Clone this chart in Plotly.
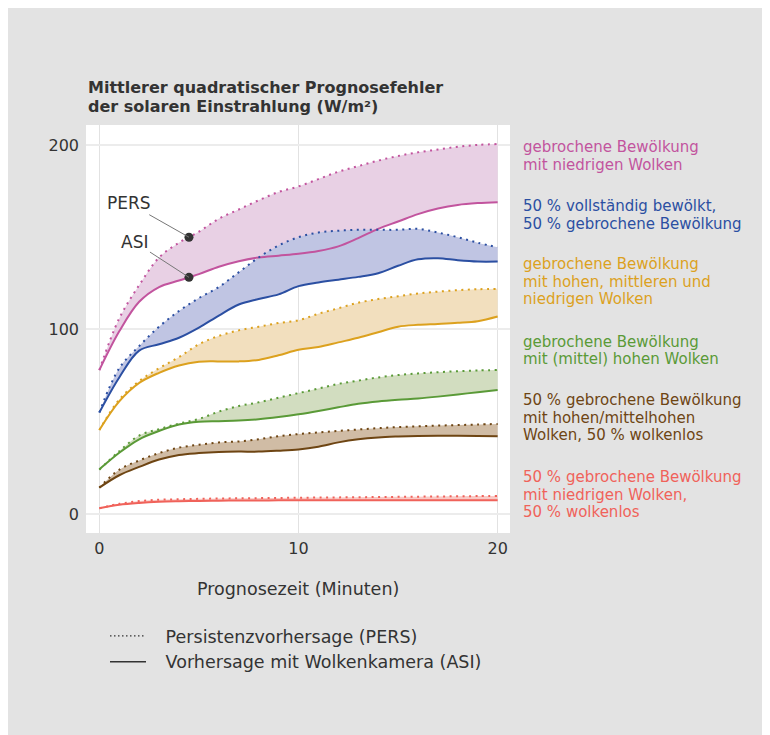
import plotly.graph_objects as go
import numpy as np

t = list(range(21))

pink_pers = [78, 106, 124, 139, 147, 153, 160, 165, 170, 174.5, 177.5, 181.5, 185.5, 188.5, 191.5, 194, 196, 197.5, 199, 200, 200.5]
pink_asi = [78, 99, 115, 123, 126.5, 130, 134, 137, 139, 140, 141, 142.5, 145, 149.5, 154.5, 158.5, 162.5, 165.5, 167.5, 168.5, 169]
blue_pers = [55, 79, 91, 101.5, 110, 117, 123, 131, 139, 145.5, 150, 152.5, 153.5, 154, 154, 154, 154.5, 152.5, 150, 147, 144.5]
blue_asi = [55, 74, 88.5, 92, 95.5, 101, 107.5, 113.5, 116.5, 119, 123.5, 125.5, 127, 128.5, 130.5, 134.5, 138, 138.6, 137.5, 136.8, 136.8]
gold_pers = [45.5, 62, 72, 79, 85, 92, 96.5, 99.5, 101.5, 103.5, 105, 108.5, 111.5, 114.5, 116.5, 118, 119.5, 120.5, 121.3, 121.8, 122]
gold_asi = [45.5, 61, 71, 76.5, 80.5, 82.5, 82.7, 82.7, 83.5, 86, 89, 90.5, 93, 95.5, 98.5, 101.5, 102.5, 103, 103.6, 104.5, 107]
green_pers = [24, 34, 42.5, 46, 49, 51.5, 55.5, 58.5, 60.5, 63, 65.5, 68, 70.5, 72.3, 74, 75.3, 76.2, 76.8, 77.4, 77.8, 78]
green_asi = [24.2, 33.2, 40.5, 45, 48.5, 50, 50.3, 50.6, 51.3, 52.5, 54, 55.8, 57.8, 59.7, 61, 61.9, 62.6, 63.6, 64.8, 66, 67.2]
brown_pers = [14.3, 24, 29, 33, 36, 37.5, 38.8, 39.3, 40.5, 42.2, 43.3, 44.2, 45, 45.8, 46.5, 47.1, 47.5, 47.9, 48.2, 48.5, 48.8]
brown_asi = [14.3, 21, 25.5, 29.5, 32, 33, 33.6, 33.8, 33.8, 34.3, 35, 36.5, 38.8, 40.5, 41.5, 42, 42.3, 42.4, 42.4, 42.3, 42.1]
red_pers = [3.1, 5.5, 7, 7.7, 8, 8.2, 8.4, 8.5, 8.6, 8.7, 8.8, 8.9, 9.0, 9.1, 9.2, 9.3, 9.4, 9.5, 9.6, 9.7, 9.8]
red_asi = [3.1, 5, 6, 6.6, 6.9, 7.1, 7.2, 7.3, 7.3, 7.4, 7.4, 7.4, 7.4, 7.4, 7.4, 7.4, 7.4, 7.4, 7.4, 7.4, 7.4]

label_lines = [
    ["gebrochene Bewölkung", "mit niedrigen Wolken"],
    ["50 % vollständig bewölkt,", "50 % gebrochene Bewölkung"],
    ["gebrochene Bewölkung", "mit hohen, mittleren und", "niedrigen Wolken"],
    ["gebrochene Bewölkung", "mit (mittel) hohen Wolken"],
    ["50 % gebrochene Bewölkung", "mit hohen/mittelhohen", "Wolken, 50 % wolkenlos"],
    ["50 % gebrochene Bewölkung", "mit niedrigen Wolken,", "50 % wolkenlos"],
]
title_lines = ["Mittlerer quadratischer Prognosefehler", "der solaren Einstrahlung (W/m²)"]
legend_names = ["Persistenzvorhersage (PERS)", "Vorhersage mit Wolkenkamera (ASI)"]
x_title = "Prognosezeit (Minuten)"

series = [
    (pink_asi, pink_pers, "#c2549e", "#e8d0e4"),
    (blue_asi, blue_pers, "#2b4fa2", "#c0c5e3"),
    (gold_asi, gold_pers, "#dca11e", "#f2dfbe"),
    (green_asi, green_pers, "#5a9a37", "#d2ddc0"),
    (brown_asi, brown_pers, "#6e4513", "#d0bca5"),
    (red_asi, red_pers, "#f0625a", "#f9c9c5"),
]

ANNOT_T = 4.5

# layout constants (pixels in the page)
W, H = 770, 735
OFF = 8
PL, PT, PR, PB = 86, 125, 510, 533
pw, ph = PR - PL, PB - PT
label_first_y = [147.3, 206, 264.3, 341.7, 400, 477]
LINE_STEP = 17.5

def ypap(ypx):
    return (PB - ypx) / ph

def xpap(xpx):
    return (xpx - PL) / pw

fig = go.Figure()

for asi, pers, lc, fc in series:
    fig.add_trace(go.Scatter(x=t, y=asi, mode="lines", line=dict(width=0, shape="spline", color=fc),
                             showlegend=False, hoverinfo="skip"))
    fig.add_trace(go.Scatter(x=t, y=pers, mode="lines", line=dict(width=0, shape="spline", color=fc),
                             fill="tonexty", fillcolor=fc, showlegend=False, hoverinfo="skip"))

for asi, pers, lc, fc in series:
    fig.add_trace(go.Scatter(x=t, y=pers, mode="lines",
                             line=dict(color=lc, width=2, dash="2px,4.5px", shape="spline"),
                             showlegend=False))
    fig.add_trace(go.Scatter(x=t, y=asi, mode="lines",
                             line=dict(color=lc, width=2, shape="spline"),
                             showlegend=False))

py = float(np.interp(ANNOT_T, t, pink_pers))
ay = float(np.interp(ANNOT_T, t, pink_asi))
fig.add_trace(go.Scatter(x=[ANNOT_T, ANNOT_T], y=[py, ay], mode="markers",
                         marker=dict(color="#333333", size=9), showlegend=False))

pad = "\u00a0\u00a0\u2009"
fig.add_trace(go.Scatter(x=[None], y=[None], mode="lines", name=pad + legend_names[0],
                         line=dict(color="#333333", width=1.2, dash="1.5px,2.5px")))
fig.add_trace(go.Scatter(x=[None], y=[None], mode="lines", name=pad + legend_names[1],
                         line=dict(color="#333333", width=1.5)))

annotations = []
for i, line in enumerate(title_lines):
    annotations.append(dict(text="<b>" + line + "</b>", xref="paper", yref="paper",
                            x=xpap(86), y=ypap(87 + 20 * i), xanchor="left", yanchor="middle",
                            showarrow=False, font=dict(family="DejaVu Sans", size=16, color="#333333")))
for lines, y0, (asi, pers, lc, fc) in zip(label_lines, label_first_y, series):
    for j, line in enumerate(lines):
        annotations.append(dict(text=line, xref="paper", yref="paper", x=xpap(521),
                                y=ypap(y0 + LINE_STEP * j), xanchor="left", yanchor="middle",
                                showarrow=False, font=dict(family="DejaVu Sans", size=15, color=lc)))
annotations.append(dict(text=x_title, xref="paper", yref="paper", x=0.5, y=ypap(589),
                        xanchor="center", yanchor="middle", showarrow=False,
                        font=dict(family="DejaVu Sans", size=17.5, color="#333333")))
annotations.append(dict(text="PERS", x=ANNOT_T, y=py, ax=-60, ay=-34, showarrow=True, arrowhead=0,
                        arrowwidth=1, arrowcolor="#777777",
                        font=dict(family="DejaVu Sans", size=17, color="#333333")))
annotations.append(dict(text="ASI", x=ANNOT_T, y=ay, ax=-54, ay=-35, showarrow=True, arrowhead=0,
                        arrowwidth=1, arrowcolor="#777777",
                        font=dict(family="DejaVu Sans", size=17, color="#333333")))

fig.update_layout(
    width=W, height=H,
    margin=dict(l=PL - OFF, r=W + OFF - PR, t=PT - OFF, b=H + OFF - PB),
    paper_bgcolor="#e3e3e3", plot_bgcolor="#ffffff",
    font=dict(family="DejaVu Sans", color="#333333"),
    annotations=annotations,
    showlegend=True,
    legend=dict(x=xpap(105), y=ypap(618), xanchor="left", yanchor="top", traceorder="normal",
                bgcolor="rgba(0,0,0,0)", font=dict(family="DejaVu Sans", size=17.5, color="#333333"),
                itemwidth=36, tracegroupgap=0),
)
fig.update_xaxes(range=[-0.67, 20.62], tickvals=[0, 10, 20], showgrid=True, gridcolor="#e2e2e2",
                 zeroline=False, showline=False, tickfont=dict(size=16, color="#333333"), ticks="",
                 ticklabelstandoff=4)
fig.update_yaxes(range=[-10.3, 210.8], tickvals=[0, 100, 200], showgrid=True, gridcolor="#ececec",
                 gridwidth=2, zeroline=False, showline=False, tickfont=dict(size=16, color="#333333"), ticks="",
                 ticklabelstandoff=6)

fig.write_html("out.html")
